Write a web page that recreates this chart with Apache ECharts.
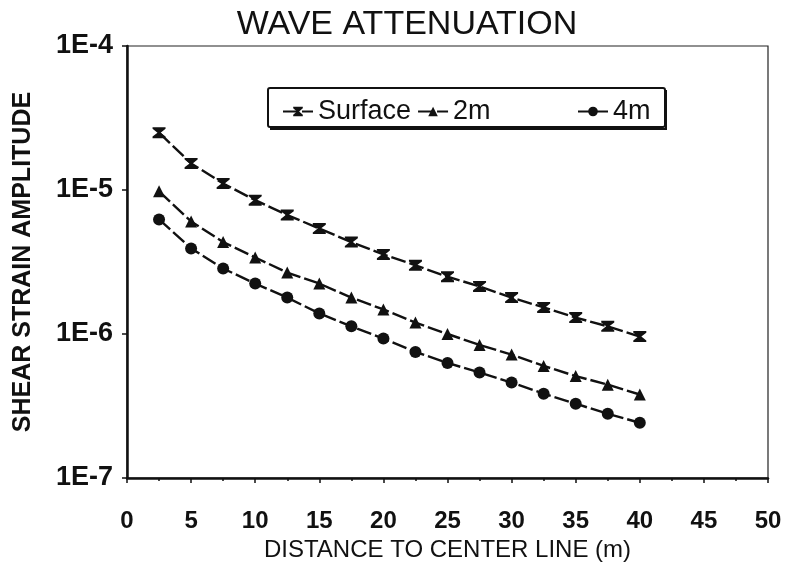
<!DOCTYPE html>
<html>
<head>
<meta charset="utf-8">
<script src="https://cdn.jsdelivr.net/npm/echarts@6/dist/echarts.min.js"></script>
<style>
  html, body { margin: 0; padding: 0; background: #fff; }
  #chart { width: 792px; height: 566px; }
</style>
</head>
<body>
<div id="chart"></div>
<script>
// Distance from the center line (m)
const distance = [2.5, 5, 7.5, 10, 12.5, 15, 17.5, 20, 22.5, 25, 27.5, 30, 32.5, 35, 37.5, 40];

// Shear strain amplitude at each depth
const surface = [2.5e-5, 1.53e-5, 1.11e-5, 8.5e-6, 6.7e-6, 5.4e-6, 4.35e-6, 3.57e-6,
                 3.0e-6, 2.5e-6, 2.14e-6, 1.79e-6, 1.53e-6, 1.3e-6, 1.13e-6, 9.6e-7];
const depth2m = [9.8e-6, 6.05e-6, 4.35e-6, 3.4e-6, 2.67e-6, 2.24e-6, 1.79e-6, 1.48e-6,
                 1.2e-6, 1.0e-6, 8.4e-7, 7.2e-7, 6.0e-7, 5.1e-7, 4.45e-7, 3.8e-7];
const depth4m = [6.25e-6, 3.93e-6, 2.85e-6, 2.24e-6, 1.79e-6, 1.39e-6, 1.13e-6, 9.3e-7,
                 7.5e-7, 6.3e-7, 5.4e-7, 4.6e-7, 3.85e-7, 3.28e-7, 2.79e-7, 2.42e-7];

const seriesNames = ['Surface', '2m', '4m'];
const xTicks = [0, 5, 10, 15, 20, 25, 30, 35, 40, 45, 50];
const yTickLabels = { '-7': '1E-7', '-6': '1E-6', '-5': '1E-5', '-4': '1E-4' };

const FONT = '"Liberation Sans", Arial, sans-serif';
const INK = '#111';

// hourglass marker used for the surface readings
const hourglass = 'path://M0,0 L10,0 L10,1.5 L6.2,5 L10,8.5 L10,10 L0,10 L0,8.5 L3.8,5 L0,1.5 Z';

function pairs(ys) { return distance.map((d, i) => [d, ys[i]]); }

function lineSeries(name, ys, symbol, size) {
  return {
    name: name,
    type: 'line',
    data: pairs(ys),
    symbol: symbol,
    symbolSize: size,
    showSymbol: true,
    itemStyle: { color: INK },
    lineStyle: { color: INK, width: 2.4, type: [15, 4] },
    emphasis: { disabled: true },
    animation: false
  };
}

const legendText = { fontFamily: FONT, fontSize: 27, color: INK };

const chart = echarts.init(document.getElementById('chart'), null, { renderer: 'canvas' });

chart.setOption({
  backgroundColor: '#fff',
  animation: false,
  title: {
    text: 'WAVE ATTENUATION',
    left: 402, top: 3, textAlign: 'center',
    textStyle: { fontFamily: FONT, fontSize: 34, fontWeight: 'normal', color: INK }
  },
  grid: {
    left: 127, right: 24, top: 46, bottom: 88,
    outerBoundsMode: 'none', containLabel: false,
    show: true, borderColor: '#222', borderWidth: 1.2
  },
  legend: [
    {
      data: ['Surface', '2m'],
      left: 277, top: 93, itemWidth: 30, itemHeight: 12, itemGap: 6,
      textStyle: legendText,
      selectedMode: false
    },
    {
      data: ['4m'],
      left: 572, top: 93, itemWidth: 30, itemHeight: 12,
      textStyle: legendText,
      selectedMode: false
    }
  ],
  graphic: [
    {
      type: 'rect', z: 5,
      shape: { x: 268, y: 88, width: 397, height: 39, r: 2 },
      style: { fill: 'none', stroke: INK, lineWidth: 2 }
    },
    {
      type: 'polyline', z: 5,
      shape: { points: [[270, 129], [666, 129], [666, 90]] },
      style: { fill: 'none', stroke: INK, lineWidth: 2 }
    }
  ],
  xAxis: {
    type: 'value', min: xTicks[0], max: xTicks[xTicks.length - 1], interval: 5,
    name: 'DISTANCE TO CENTER LINE (m)', nameLocation: 'middle', nameGap: 60,
    nameTextStyle: { fontFamily: FONT, fontSize: 24, color: INK },
    axisLine: { show: true, lineStyle: { color: INK, width: 2.5 } },
    axisTick: { show: true, inside: false, length: 5, lineStyle: { color: INK, width: 1.5 } },
    minorTick: { show: true, splitNumber: 2, length: 3, lineStyle: { color: INK, width: 1.5 } },
    splitLine: { show: false },
    axisLabel: { fontFamily: FONT, fontSize: 24, fontWeight: 'bold', color: INK, margin: 31 }
  },
  yAxis: {
    type: 'log', logBase: 10, min: 1e-7, max: 1e-4,
    name: 'SHEAR STRAIN AMPLITUDE', nameLocation: 'middle', nameGap: 91, nameRotate: 90,
    nameTextStyle: { fontFamily: FONT, fontSize: 25, fontWeight: 'bold', color: INK },
    axisLine: { show: true, lineStyle: { color: INK, width: 2.5 } },
    axisTick: { show: true, length: 5, lineStyle: { color: INK, width: 1.5 } },
    splitLine: { show: false },
    axisLabel: {
      fontFamily: FONT, fontSize: 27, fontWeight: 'bold', color: INK, margin: 14,
      formatter: v => yTickLabels[String(Math.round(Math.log10(v)))] || ''
    }
  },
  series: [
    lineSeries(seriesNames[0], surface, hourglass, [13, 11]),
    lineSeries(seriesNames[1], depth2m, 'triangle', 12),
    lineSeries(seriesNames[2], depth4m, 'circle', 12)
  ]
});
</script>
</body>
</html>
